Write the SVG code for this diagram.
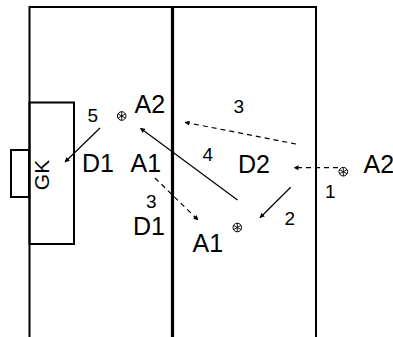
<svg xmlns="http://www.w3.org/2000/svg" width="393" height="337" viewBox="0 0 393 337">
<style>
.f{fill:none;stroke:#000;stroke-width:2}
.t{font-family:"Liberation Sans",Arial,sans-serif;fill:#000}
.l{font-size:25px}
.n{font-size:19px}
.a{fill:none;stroke:#000;stroke-width:1.2}
.d{stroke-dasharray:5,4}
.b circle{fill:#fff;stroke:#000;stroke-width:1}
.b path{stroke:#000;stroke-width:0.9;fill:none}
</style>
<defs>
<marker id="ah" viewBox="0 0 10 10" refX="9" refY="5" markerWidth="5" markerHeight="5" orient="auto" markerUnits="userSpaceOnUse">
<path d="M0,0 L10,5 L0,10 Z" fill="#000"/>
</marker>
<g id="ball" class="b">
<circle r="4.3" cx="0" cy="0"/>
<path d="M0,-4.3 V4.3 M-3.7,-2.1 L3.7,2.1 M-3.7,2.1 L3.7,-2.1"/>
</g>
</defs>
<g id="pitch">
<path class="f" d="M29.5,7 H316.5 M29.5,6 V337 M316,6 V337"/>
<path d="M172.5,6 V337" stroke="#000" stroke-width="3.2"/>
<rect class="f" x="29.5" y="102.5" width="44.5" height="141.5"/>
<rect class="f" x="11" y="150" width="18" height="47"/>
</g>
<g id="gk"><text class="t" font-size="21" transform="translate(49,175) rotate(-90)" text-anchor="middle">GK</text></g>
<g id="connectors">
<line class="a" x1="100" y1="128" x2="65" y2="162" marker-end="url(#ah)"/>
<line class="a" x1="237.5" y1="200" x2="140.5" y2="128.3" marker-end="url(#ah)"/>
<line class="a d" x1="296" y1="144" x2="185" y2="122.3" marker-end="url(#ah)"/>
<line class="a d" x1="155" y1="178" x2="198" y2="220" marker-end="url(#ah)"/>
<line class="a d" x1="338" y1="167.7" x2="294" y2="167.7" marker-end="url(#ah)"/>
<line class="a" x1="290.7" y1="187.3" x2="260" y2="217.7" marker-end="url(#ah)"/>
</g>
<g id="A2-left"><use href="#ball" x="121.7" y="116"/><text class="t l" x="134.5" y="113">A2</text></g>
<g id="D1-upper"><text class="t l" x="82" y="172">D1</text></g>
<g id="A1-upper"><text class="t l" x="130.5" y="172">A1</text></g>
<g id="D1-lower"><text class="t l" x="133" y="235">D1</text></g>
<g id="A1-lower"><use href="#ball" x="237.3" y="227.5"/><text class="t l" x="192.5" y="252">A1</text></g>
<g id="D2"><text class="t l" x="238" y="173">D2</text></g>
<g id="A2-right"><use href="#ball" x="343.3" y="171.7"/><text class="t l" x="363.5" y="173">A2</text></g>
<g id="labels">
<text class="t n" x="87.5" y="122">5</text>
<text class="t n" x="233.5" y="113">3</text>
<text class="t n" x="202.5" y="161">4</text>
<text class="t n" x="146" y="208">3</text>
<text class="t n" x="284.5" y="225">2</text>
<text class="t n" x="325" y="198">1</text>
</g>
</svg>
